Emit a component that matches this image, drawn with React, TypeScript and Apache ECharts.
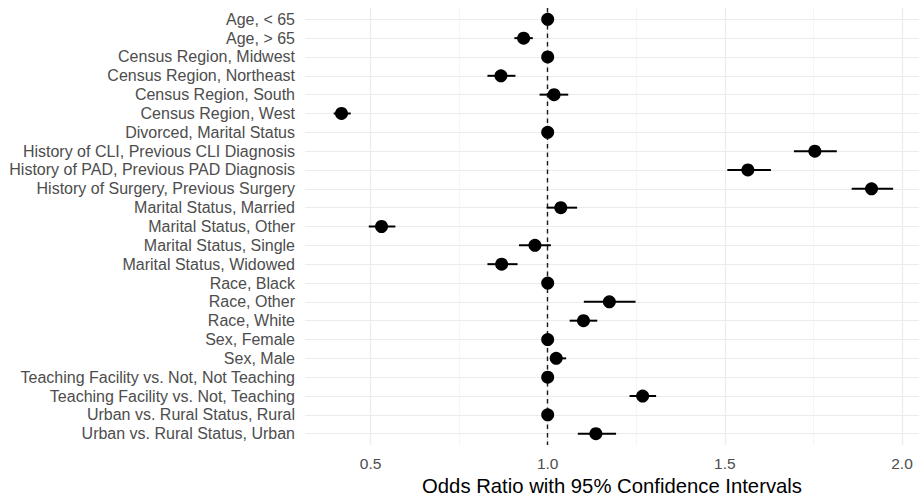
import React, { useEffect, useRef } from "react";
import * as echarts from "echarts";

const categories = [
  "Age, < 65",
  "Age, > 65",
  "Census Region, Midwest",
  "Census Region, Northeast",
  "Census Region, South",
  "Census Region, West",
  "Divorced, Marital Status",
  "History of CLI, Previous CLI Diagnosis",
  "History of PAD, Previous PAD Diagnosis",
  "History of Surgery, Previous Surgery",
  "Marital Status, Married",
  "Marital Status, Other",
  "Marital Status, Single",
  "Marital Status, Widowed",
  "Race, Black",
  "Race, Other",
  "Race, White",
  "Sex, Female",
  "Sex, Male",
  "Teaching Facility vs. Not, Not Teaching",
  "Teaching Facility vs. Not, Teaching",
  "Urban vs. Rural Status, Rural",
  "Urban vs. Rural Status, Urban",
];

const oddsRatio = [
  1.0, 0.932, 1.0, 0.868, 1.018, 0.418, 1.0, 1.754, 1.565, 1.914, 1.037, 0.531,
  0.964, 0.87, 1.0, 1.174, 1.101, 1.0, 1.024, 1.0, 1.268, 1.0, 1.136,
];
const ciLower = [
  1.0, 0.906, 1.0, 0.83, 0.977, 0.396, 1.0, 1.695, 1.507, 1.858, 0.997, 0.495,
  0.919, 0.83, 1.0, 1.102, 1.062, 1.0, 1.01, 1.0, 1.231, 1.0, 1.085,
];
const ciUpper = [
  1.0, 0.958, 1.0, 0.909, 1.058, 0.444, 1.0, 1.816, 1.63, 1.975, 1.083, 0.57,
  1.009, 0.915, 1.0, 1.248, 1.14, 1.0, 1.052, 1.0, 1.306, 1.0, 1.193,
];

const xTickLabels = [0.5, 1.0, 1.5, 2.0];
const xMinorGrid = [0.75, 1.25, 1.75];
const referenceLine = 1.0;

const X_MIN = 0.315;
const X_MAX = 2.048;

export default function App() {
  const ref = useRef<HTMLDivElement>(null);

  useEffect(() => {
    if (!ref.current) return;
    const chart = echarts.init(ref.current, undefined, { renderer: "svg" });
    const rowIdx = categories.map((_, i) => i);
    const font = "Liberation Sans";

    chart.setOption({
      animation: false,
      backgroundColor: "#ffffff",
      grid: {
        left: 305,
        right: 3,
        top: 8,
        bottom: 51,
        containLabel: false,
        outerBoundsMode: "none",
      },
      xAxis: {
        type: "value",
        min: X_MIN,
        max: X_MAX,
        axisLine: { show: false },
        axisTick: { show: false },
        splitLine: { show: false },
        axisLabel: {
          customValues: xTickLabels,
          formatter: (v: number) => v.toFixed(1),
          color: "#4d4d4d",
          fontSize: 15.5,
          fontFamily: font,
          margin: 10,
        },
        name: "Odds Ratio with 95% Confidence Intervals",
        nameLocation: "middle",
        nameGap: 26,
        nameTextStyle: { color: "#000000", fontSize: 20.3, fontFamily: font },
      },
      yAxis: {
        type: "value",
        inverse: true,
        min: -0.6,
        max: categories.length - 1 + 0.6,
        axisLine: { show: false },
        axisTick: { show: false },
        splitLine: { show: false },
        axisLabel: {
          customValues: rowIdx,
          formatter: (v: number) => categories[Math.round(v)] ?? "",
          color: "#4d4d4d",
          fontSize: 16,
          fontFamily: font,
          margin: 10,
        },
      },
      series: [
        {
          type: "line",
          data: [],
          silent: true,
          z: 0,
          markLine: {
            silent: true,
            symbol: ["none", "none"],
            label: { show: false },
            animation: false,
            data: [
              ...rowIdx.map((i) => ({
                yAxis: i,
                lineStyle: { color: "#ebebeb", width: 1.2, type: "solid" },
              })),
              ...xMinorGrid.map((v) => ({
                xAxis: v,
                lineStyle: { color: "#f0f0f0", width: 0.7, type: "solid" },
              })),
              ...xTickLabels.map((v) => ({
                xAxis: v,
                lineStyle: { color: "#ebebeb", width: 1.3, type: "solid" },
              })),
            ],
          },
        },
        {
          type: "line",
          data: [],
          silent: true,
          z: 1,
          markLine: {
            silent: true,
            symbol: ["none", "none"],
            label: { show: false },
            animation: false,
            data: [
              {
                xAxis: referenceLine,
                lineStyle: { color: "#1a1a1a", width: 1.4, type: [4.5, 4] },
              },
            ],
          },
        },
        {
          type: "custom",
          z: 20,
          silent: true,
          data: rowIdx.map((i) => [i, ciLower[i], ciUpper[i]]),
          renderItem: (params: any, api: any) => {
            const i = api.value(0);
            const p1 = api.coord([api.value(1), i]);
            const p2 = api.coord([api.value(2), i]);
            return {
              type: "rect",
              shape: { x: p1[0], y: p1[1] - 1, width: p2[0] - p1[0], height: 2 },
              style: { fill: "#000000", stroke: null },
            };
          },
          encode: { x: [1, 2], y: 0 },
        },
        {
          type: "scatter",
          z: 30,
          silent: true,
          symbol: "circle",
          symbolSize: 13,
          itemStyle: { color: "#000000", opacity: 1 },
          data: rowIdx.map((i) => [oddsRatio[i], i]),
        },
      ],
    });

    return () => chart.dispose();
  }, []);

  return (
    <div
      ref={ref}
      style={{ position: "fixed", left: 0, top: 0, width: 922, height: 496 }}
    />
  );
}
